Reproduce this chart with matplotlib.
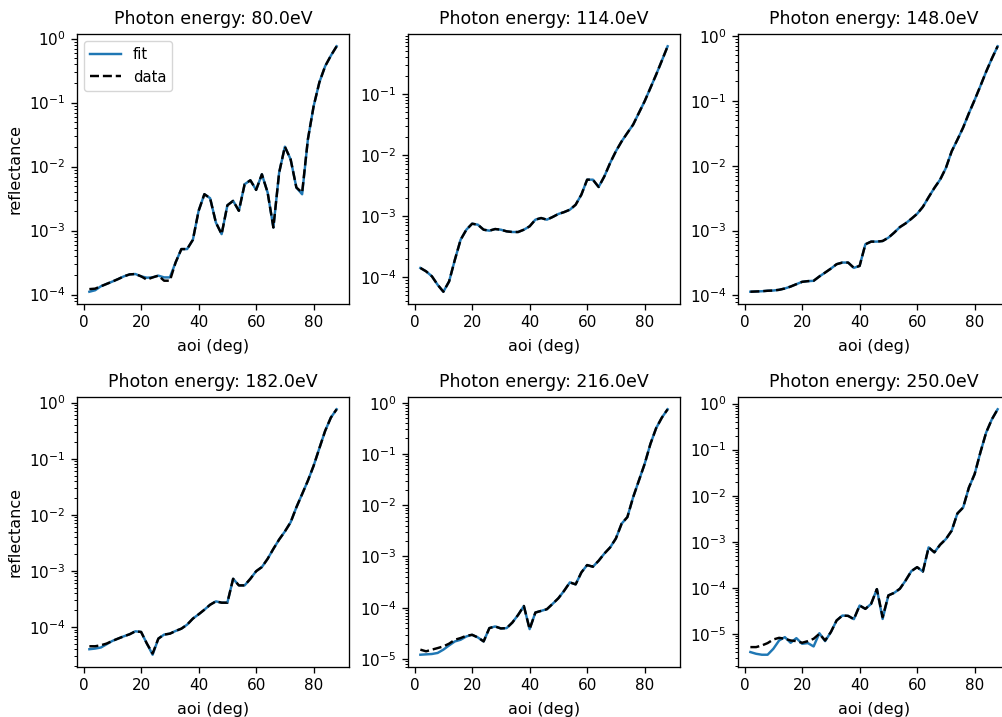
import numpy as np
import matplotlib
matplotlib.use("Agg")
import matplotlib.pyplot as plt

# angles of incidence (deg)
aoi = np.arange(2, 90, 2)

energies = [80.0, 114.0, 148.0, 182.0, 216.0, 250.0]

data_80 = [1.22e-4, 1.24e-4, 1.35e-4, 1.47e-4, 1.60e-4, 1.75e-4, 1.93e-4, 2.07e-4, 2.10e-4, 1.93e-4,
           1.71e-4, 1.86e-4, 1.98e-4, 1.65e-4, 1.65e-4, 3.19e-4, 5.15e-4, 5.15e-4, 7.19e-4, 2.04e-3,
           3.71e-3, 3.21e-3, 1.34e-3, 8.81e-4, 2.49e-3, 2.92e-3, 2.04e-3, 5.31e-3, 6.12e-3, 4.33e-3,
           7.60e-3, 3.94e-3, 1.12e-3, 8.05e-3, 2.05e-2, 1.30e-2, 4.71e-3, 3.94e-3, 2.67e-2, 8.81e-2,
           0.208, 0.371, 0.543, 0.760]
fit_80 = [1.11e-4, 1.17e-4, 1.35e-4, 1.47e-4, 1.60e-4, 1.75e-4, 1.93e-4, 2.07e-4, 2.10e-4, 1.93e-4,
          1.84e-4, 1.86e-4, 1.98e-4, 1.86e-4, 1.86e-4, 3.19e-4, 5.15e-4, 5.15e-4, 7.19e-4, 2.04e-3,
          3.71e-3, 3.21e-3, 1.34e-3, 8.81e-4, 2.49e-3, 2.92e-3, 2.04e-3, 5.31e-3, 6.12e-3, 4.33e-3,
          7.60e-3, 3.94e-3, 1.12e-3, 8.05e-3, 2.05e-2, 1.30e-2, 4.71e-3, 3.70e-3, 2.67e-2, 8.81e-2,
          0.208, 0.371, 0.543, 0.760]

data_114 = [1.41e-4, 1.24e-4, 1.03e-4, 7.48e-5, 5.75e-5, 8.49e-5, 1.92e-4, 4.09e-4, 5.97e-4, 7.48e-4,
            7.21e-4, 5.97e-4, 5.75e-4, 6.12e-4, 5.97e-4, 5.61e-4, 5.47e-4, 5.47e-4, 5.97e-4, 6.78e-4,
            8.71e-4, 9.27e-4, 8.71e-4, 9.64e-4, 1.08e-3, 1.16e-3, 1.27e-3, 1.53e-3, 2.24e-3, 3.94e-3,
            3.94e-3, 2.99e-3, 4.47e-3, 7.40e-3, 1.15e-2, 1.67e-2, 2.30e-2, 3.14e-2, 4.89e-2, 7.59e-2,
            0.125, 0.207, 0.352, 0.604]
fit_114 = list(data_114)

data_148 = [1.14e-4, 1.15e-4, 1.16e-4, 1.18e-4, 1.19e-4, 1.22e-4, 1.28e-4, 1.37e-4, 1.49e-4, 1.62e-4,
            1.66e-4, 1.68e-4, 1.96e-4, 2.25e-4, 2.59e-4, 3.03e-4, 3.21e-4, 3.21e-4, 2.66e-4, 2.85e-4,
            6.14e-4, 6.75e-4, 6.75e-4, 6.90e-4, 7.76e-4, 9.27e-4, 1.13e-3, 1.29e-3, 1.52e-3, 1.81e-3,
            2.32e-3, 3.27e-3, 4.54e-3, 6.10e-3, 9.20e-3, 1.66e-2, 2.51e-2, 3.87e-2, 6.43e-2, 0.103,
            0.169, 0.281, 0.449, 0.693]
fit_148 = list(data_148)

data_182 = [4.53e-5, 4.53e-5, 4.72e-5, 5.06e-5, 5.64e-5, 6.21e-5, 6.82e-5, 7.41e-5, 8.37e-5, 8.15e-5,
            5.06e-5, 3.36e-5, 6.21e-5, 7.31e-5, 7.60e-5, 8.49e-5, 9.33e-5, 1.10e-4, 1.41e-4, 1.68e-4,
            2.03e-4, 2.49e-4, 2.86e-4, 2.71e-4, 2.71e-4, 7.23e-4, 5.51e-4, 5.51e-4, 7.23e-4, 9.86e-4,
            1.17e-3, 1.64e-3, 2.47e-3, 3.62e-3, 5.04e-3, 7.36e-3, 1.36e-2, 2.34e-2, 4.05e-2, 7.48e-2,
            0.154, 0.313, 0.541, 0.760]
fit_182 = [4.01e-5, 4.12e-5, 4.30e-5, 4.92e-5, 5.64e-5, 6.21e-5, 6.82e-5, 7.41e-5, 8.37e-5, 8.15e-5,
           5.06e-5, 3.20e-5, 6.21e-5, 7.31e-5, 7.60e-5, 8.49e-5, 9.33e-5, 1.10e-4, 1.41e-4, 1.68e-4,
           2.03e-4, 2.49e-4, 2.86e-4, 2.71e-4, 2.71e-4, 7.23e-4, 5.51e-4, 5.51e-4, 7.23e-4, 9.86e-4,
           1.17e-3, 1.64e-3, 2.47e-3, 3.62e-3, 5.04e-3, 7.36e-3, 1.36e-2, 2.34e-2, 4.05e-2, 7.48e-2,
           0.154, 0.313, 0.541, 0.760]

data_216 = [1.52e-5, 1.41e-5, 1.52e-5, 1.63e-5, 1.76e-5, 1.99e-5, 2.37e-5, 2.56e-5, 2.84e-5, 2.96e-5,
            2.63e-5, 2.20e-5, 4.00e-5, 4.31e-5, 3.94e-5, 4.00e-5, 5.14e-5, 7.24e-5, 1.08e-4, 3.82e-5,
            8.05e-5, 8.67e-5, 9.35e-5, 1.19e-4, 1.53e-4, 2.14e-4, 3.12e-4, 2.85e-4, 4.88e-4, 6.79e-4,
            6.30e-4, 8.24e-4, 1.14e-3, 1.50e-3, 2.24e-3, 4.36e-3, 5.86e-3, 1.43e-2, 3.02e-2, 6.37e-2,
            0.156, 0.318, 0.512, 0.743]
fit_216 = [1.21e-5, 1.23e-5, 1.25e-5, 1.31e-5, 1.52e-5, 1.84e-5, 2.20e-5, 2.37e-5, 2.75e-5, 2.96e-5,
           2.63e-5, 2.20e-5, 4.00e-5, 4.31e-5, 3.94e-5, 4.00e-5, 5.14e-5, 7.24e-5, 1.08e-4, 3.82e-5,
           8.05e-5, 8.67e-5, 9.35e-5, 1.19e-4, 1.53e-4, 2.14e-4, 3.12e-4, 2.85e-4, 4.88e-4, 6.79e-4,
           6.30e-4, 8.24e-4, 1.14e-3, 1.50e-3, 2.24e-3, 4.36e-3, 5.86e-3, 1.43e-2, 3.02e-2, 6.37e-2,
           0.156, 0.318, 0.512, 0.743]

data_250 = [5.14e-6, 5.14e-6, 5.58e-6, 6.28e-6, 7.53e-6, 8.18e-6, 7.80e-6, 7.16e-6, 6.93e-6, 6.38e-6,
            6.93e-6, 7.80e-6, 1.00e-5, 7.16e-6, 1.09e-5, 1.95e-5, 2.49e-5, 2.45e-5, 2.08e-5, 4.11e-5,
            3.48e-5, 4.47e-5, 9.35e-5, 2.30e-5, 6.82e-5, 7.74e-5, 9.51e-5, 1.44e-4, 2.30e-4, 2.80e-4,
            2.25e-4, 7.53e-4, 5.87e-4, 8.61e-4, 1.14e-3, 1.73e-3, 4.10e-3, 5.53e-3, 1.50e-2, 2.94e-2,
            8.69e-2, 0.235, 0.457, 0.753]
fit_250 = [4.01e-6, 3.68e-6, 3.51e-6, 3.51e-6, 4.73e-6, 7.16e-6, 8.47e-6, 6.38e-6, 8.05e-6, 6.07e-6,
           6.28e-6, 5.31e-6, 1.03e-5, 6.93e-6, 1.09e-5, 1.95e-5, 2.49e-5, 2.45e-5, 2.08e-5, 4.11e-5,
           3.48e-5, 4.47e-5, 9.35e-5, 2.10e-5, 6.82e-5, 7.74e-5, 9.51e-5, 1.44e-4, 2.30e-4, 2.80e-4,
           2.25e-4, 7.53e-4, 5.87e-4, 8.61e-4, 1.14e-3, 1.73e-3, 4.10e-3, 5.53e-3, 1.50e-2, 2.94e-2,
           8.69e-2, 0.235, 0.457, 0.753]

fits = [fit_80, fit_114, fit_148, fit_182, fit_216, fit_250]
datas = [data_80, data_114, data_148, data_182, data_216, data_250]

# original was rendered at a slightly higher dpi, scale lines/ticks a bit
plt.rcParams['axes.linewidth'] = 0.95
plt.rcParams['xtick.major.size'] = 4.1
plt.rcParams['ytick.major.size'] = 4.1
plt.rcParams['xtick.major.pad'] = 4.1
plt.rcParams['ytick.major.pad'] = 4.1
plt.rcParams['ytick.minor.size'] = 2.3
plt.rcParams['xtick.major.width'] = 0.95
plt.rcParams['ytick.major.width'] = 0.95
plt.rcParams['ytick.minor.width'] = 0.7

fig = plt.figure(figsize=(10.03, 7.17), dpi=100)

lefts = [77, 408, 738]
bottoms = [304, 667]
W, H = 272, 270

for i in range(6):
    r, c = divmod(i, 3)
    ax = fig.add_axes([lefts[c] / 1003, 1 - bottoms[r] / 717, W / 1003, H / 717])
    ax.plot(aoi, fits[i], color='C0', lw=1.75, label='fit')
    ax.plot(aoi, datas[i], 'k--', lw=1.75, label='data')
    ax.set_yscale('log')
    ax.set_title('Photon energy: %.1feV' % energies[i], fontsize=12.5, pad=7)
    ax.set_xlabel('aoi (deg)', fontsize=11.5, labelpad=6.5)
    ax.set_xticks([0, 20, 40, 60, 80])
    ax.tick_params(labelsize=11)
    if c == 0:
        ax.set_ylabel('reflectance', fontsize=11.5, labelpad=5)
    if i == 0:
        ax.legend(loc='upper left', fontsize=10.6, handlelength=2.1)

fig.savefig('out.png', dpi=100)
